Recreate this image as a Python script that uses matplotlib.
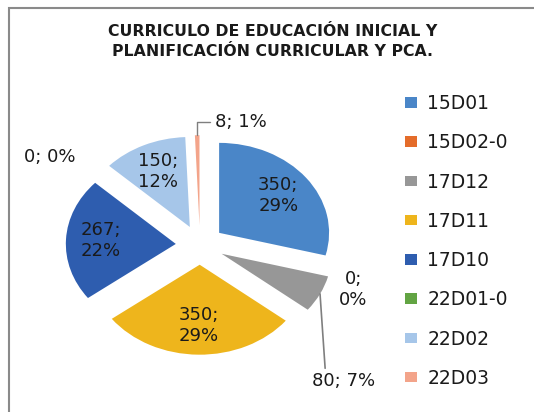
import numpy as np
import matplotlib.pyplot as plt
from matplotlib.patches import Rectangle

# datos del grafico
categorias = ['15D01', '15D02-0', '17D12', '17D11', '17D10', '22D01-0', '22D02', '22D03']
valores = [350, 0, 80, 350, 267, 0, 150, 8]
colores = ['#4A86C8', '#E46C2A', '#979797', '#EEB51C', '#2E5DAF', '#62A443', '#A6C6E9', '#F3A48A']
titulo = 'CURRICULO DE EDUCACIÓN INICIAL Y\nPLANIFICACIÓN CURRICULAR Y PCA.'

total = sum(valores)


def pct(v):
    return f'{v / total * 100:.0f}%'


fig = plt.figure(figsize=(5.34, 4.12), dpi=100)
ax = fig.add_axes([0.045, 0.078, 0.659, 0.655])

wedges, _ = ax.pie(valores, colors=colores, startangle=90, counterclock=False,
                   explode=[0.22] * len(valores), wedgeprops=dict(linewidth=0))
ax.set_aspect('auto')
ax.set_xlim(-1.6, 1.6)
ax.set_ylim(-1.5, 1.5)

# etiquetas dentro de las porciones grandes
for i, w in enumerate(wedges):
    if valores[i] < 100:
        continue
    ang = np.deg2rad((w.theta1 + w.theta2) / 2)
    cx, cy = w.center
    ax.text(cx + 0.68 * np.cos(ang), cy + 0.68 * np.sin(ang),
            f'{valores[i]};\n{pct(valores[i])}', ha='center', va='center',
            fontsize=13, color='#1a1a1a', linespacing=1.2)


def borde(i):
    w = wedges[i]
    ang = np.deg2rad((w.theta1 + w.theta2) / 2)
    cx, cy = w.center
    return cx + np.cos(ang), cy + np.sin(ang)


# etiquetas externas
ax.annotate(f'{valores[7]}; {pct(valores[7])}', xy=borde(7), xytext=(13, 9.5),
            textcoords='offset points', ha='left', va='center', fontsize=13,
            color='#1a1a1a',
            arrowprops=dict(arrowstyle='-', color='#7f7f7f', lw=1,
                            connectionstyle='angle,angleA=0,angleB=90,rad=0',
                            relpos=(0, 0.5), shrinkA=2, shrinkB=0))
ax.annotate(f'{valores[2]}; {pct(valores[2])}', xy=borde(2), xytext=(16.6, -63),
            textcoords='offset points', ha='center', va='center', fontsize=13,
            color='#1a1a1a',
            arrowprops=dict(arrowstyle='-', color='#7f7f7f', lw=1.2,
                            relpos=(0.22, 1), shrinkA=1, shrinkB=0))
ax.annotate(f'{valores[1]};\n{pct(valores[1])}', xy=borde(1), xytext=(17, -12),
            textcoords='offset points', ha='center', va='center', fontsize=13,
            color='#1a1a1a', linespacing=1.2)
ax.annotate(f'{valores[5]}; {pct(valores[5])}', xy=borde(5), xytext=(-37, 9.5),
            textcoords='offset points', ha='center', va='center', fontsize=13,
            color='#1a1a1a')

fig.text(0.511, 0.90, titulo, ha='center', va='center', fontsize=11.3,
         fontweight='bold', linespacing=1.4, color='#1a1a1a')

fig.legend(wedges, categorias, loc='upper left', bbox_to_anchor=(0.744, 0.79),
           frameon=False, fontsize=13.5, handlelength=0.65, handleheight=0.5,
           handletextpad=0.55, labelspacing=1.08, borderaxespad=0,
           labelcolor='#1a1a1a')

fig.add_artist(Rectangle((9 / 534, -0.05), 1.1, 0.981 + 0.05, transform=fig.transFigure,
                         fill=False, ec='#8a8a8a', lw=1.5, clip_on=False))

fig.savefig('out.png', dpi=100)
